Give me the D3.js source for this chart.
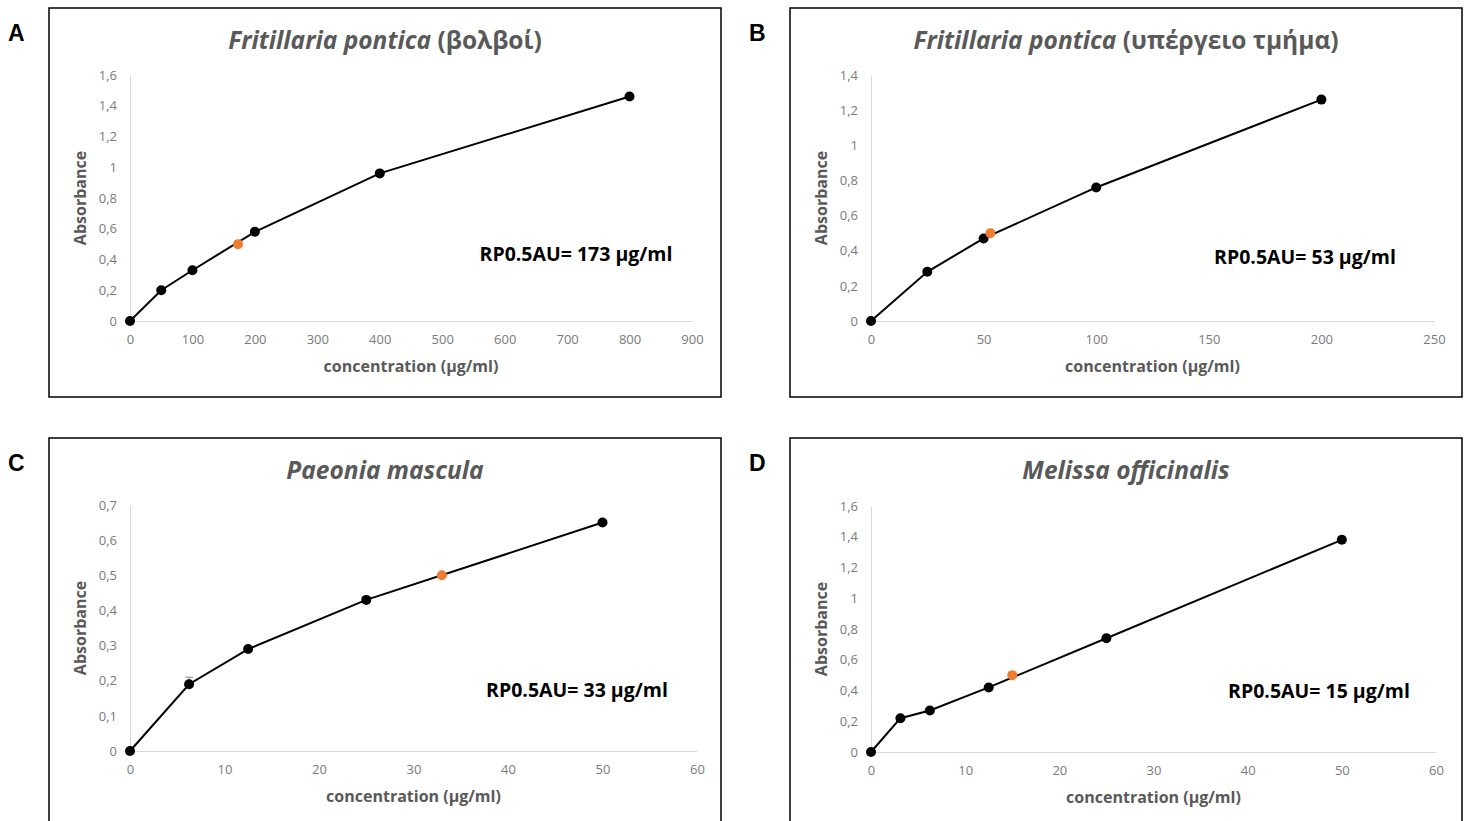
<!DOCTYPE html>
<html lang="en">
  <head>
    <meta charset="UTF-8" />
    <title>RP0.5AU curves</title>
    <script src="https://d3js.org/d3.v7.min.js"></script>
    <style>
      * {
        margin: 0;
        padding: 0;
      }
      body {
        background: #fff;
        overflow: hidden;
      }
      text {
        font-family: "Open Sans", "Noto Sans", sans-serif;
      }
      .axis-title {
        font-size: 16px;
        font-weight: bold;
        fill: #595959;
      }
      .chart-title {
        font-size: 24.5px;
        font-weight: bold;
        fill: #595959;
      }
      .rp {
        font-size: 19.5px;
        font-weight: bold;
        fill: #000;
      }
      .letter {
        font-family: "Liberation Sans", Arial, sans-serif;
        font-size: 23px;
        font-weight: bold;
      }
    </style>
  </head>

  <body></body>

  <script>
    let w = 1467;
    let h = 821;

    // A: Fritillaria pontica (bulbs)
    const concA = [0, 50, 100, 200, 400, 800];
    const absA = [0, 0.2, 0.33, 0.58, 0.96, 1.46];
    const rpA = [173, 0.5];
    const xTicksA = [0, 100, 200, 300, 400, 500, 600, 700, 800, 900];
    const yTicksA = [0, 0.2, 0.4, 0.6, 0.8, 1, 1.2, 1.4, 1.6];

    // B: Fritillaria pontica (aerial part)
    const concB = [0, 25, 50, 100, 200];
    const absB = [0, 0.28, 0.47, 0.76, 1.26];
    const rpB = [53, 0.5];
    const xTicksB = [0, 50, 100, 150, 200, 250];
    const yTicksB = [0, 0.2, 0.4, 0.6, 0.8, 1, 1.2, 1.4];

    // C: Paeonia mascula
    const concC = [0, 6.25, 12.5, 25, 50];
    const absC = [0, 0.19, 0.29, 0.43, 0.65];
    const errC = [0, 0.02, 0, 0, 0];
    const rpC = [33, 0.5];
    const xTicksC = [0, 10, 20, 30, 40, 50, 60];
    const yTicksC = [0, 0.1, 0.2, 0.3, 0.4, 0.5, 0.6, 0.7];

    // D: Melissa officinalis
    const concD = [0, 3.125, 6.25, 12.5, 25, 50];
    const absD = [0, 0.22, 0.27, 0.42, 0.74, 1.38];
    const errD = [0, 0, 0, 0, 0.02, 0];
    const rpD = [15, 0.5];
    const xTicksD = [0, 10, 20, 30, 40, 50, 60];
    const yTicksD = [0, 0.2, 0.4, 0.6, 0.8, 1, 1.2, 1.4, 1.6];

    const panels = [
      {
        letter: "A", species: "Fritillaria pontica", extra: " (βολβοί)",
        x: concA, y: absA, err: null, rp: rpA, xt: xTicksA, yt: yTicksA,
        rpText: "RP0.5AU= 173 µg/ml",
        box: [49, 8, 672, 389], plot: [130, 692, 321, 75], rpPos: [576, 261],
      },
      {
        letter: "B", species: "Fritillaria pontica", extra: " (υπέργειο τμήμα)",
        x: concB, y: absB, err: null, rp: rpB, xt: xTicksB, yt: yTicksB,
        rpText: "RP0.5AU= 53 µg/ml",
        box: [790, 8, 672, 389], plot: [871, 1434, 321, 75], rpPos: [1305, 264],
      },
      {
        letter: "C", species: "Paeonia mascula", extra: "",
        x: concC, y: absC, err: errC, rp: rpC, xt: xTicksC, yt: yTicksC,
        rpText: "RP0.5AU= 33 µg/ml",
        box: [49, 438, 672, 400], plot: [130, 697, 751, 505], rpPos: [577, 697],
      },
      {
        letter: "D", species: "Melissa officinalis", extra: "",
        x: concD, y: absD, err: errD, rp: rpD, xt: xTicksD, yt: yTicksD,
        rpText: "RP0.5AU= 15 µg/ml",
        box: [790, 438, 672, 400], plot: [871, 1436, 752, 506], rpPos: [1319, 698],
      },
    ];

    let svg = d3
      .select("body")
      .append("svg")
      .attr("width", w)
      .attr("height", h);

    const fmt = (d) => String(d).replace(".", ",");

    panels.forEach((p) => {
      let g = svg.append("g");

      // frame
      g.append("rect")
        .attr("x", p.box[0])
        .attr("y", p.box[1])
        .attr("width", p.box[2])
        .attr("height", p.box[3])
        .attr("fill", "none")
        .attr("stroke", "#000")
        .attr("stroke-width", 1.5);

      g.append("text")
        .attr("class", "letter")
        .attr("x", p.box[0] - 41)
        .attr("y", p.box[1] + 33)
        .text(p.letter);

      let xScale = d3
        .scaleLinear()
        .domain([0, d3.max(p.xt)])
        .range([p.plot[0], p.plot[1]]);
      let yScale = d3
        .scaleLinear()
        .domain([0, d3.max(p.yt)])
        .range([p.plot[2], p.plot[3]]);

      // axes
      let xAxis = g
        .append("g")
        .attr("transform", "translate(0," + p.plot[2] + ")")
        .call(d3.axisBottom(xScale).tickValues(p.xt).tickSize(0).tickPadding(14).tickFormat(fmt));
      let yAxis = g
        .append("g")
        .attr("transform", "translate(" + p.plot[0] + ",0)")
        .call(d3.axisLeft(yScale).tickValues(p.yt).tickSize(0).tickPadding(13).tickFormat(fmt));
      [xAxis, yAxis].forEach((a) => {
        a.select(".domain").attr("stroke", "#d9d9d9").attr("stroke-width", 1);
        a.selectAll(".tick text")
          .attr("font-size", 13)
          .attr("font-family", "'Open Sans', sans-serif")
          .attr("fill", "#7a7a7a");
      });

      // titles
      let t = g
        .append("text")
        .attr("class", "chart-title")
        .attr("x", p.box[0] + p.box[2] / 2)
        .attr("y", p.box[1] + 41)
        .attr("text-anchor", "middle");
      t.append("tspan").attr("font-style", "italic").text(p.species);
      if (p.extra) t.append("tspan").text(p.extra);

      g.append("text")
        .attr("class", "axis-title")
        .attr("x", (p.plot[0] + p.plot[1]) / 2)
        .attr("y", p.plot[2] + 51)
        .attr("text-anchor", "middle")
        .text("concentration (µg/ml)");

      g.append("text")
        .attr("class", "axis-title")
        .attr("transform", "translate(" + (p.plot[0] - 44) + "," + (p.plot[2] + p.plot[3]) / 2 + ") rotate(-90)")
        .attr("text-anchor", "middle")
        .text("Absorbance");

      // data
      let pts = p.x.map((c, i) => ({ c: c, a: p.y[i], e: p.err ? p.err[i] : 0 }));

      g.selectAll(".err")
        .data(pts.filter((d) => d.e > 0))
        .enter()
        .append("path")
        .attr("fill", "none")
        .attr("stroke", "#888")
        .attr("stroke-width", 1)
        .attr("d", (d) => {
          let x = xScale(d.c);
          let y0 = yScale(d.a);
          let y1 = yScale(d.a + d.e);
          return "M" + x + "," + y0 + "V" + y1 + "M" + (x - 4) + "," + y1 + "H" + (x + 4);
        });

      let line = d3
        .line()
        .x((d) => xScale(d.c))
        .y((d) => yScale(d.a));
      g.append("path")
        .datum(pts)
        .attr("d", line)
        .attr("fill", "none")
        .attr("stroke", "#000")
        .attr("stroke-width", 2);

      g.selectAll(".pt")
        .data(pts)
        .enter()
        .append("circle")
        .attr("cx", (d) => xScale(d.c))
        .attr("cy", (d) => yScale(d.a))
        .attr("r", 5)
        .attr("fill", "#000");

      g.append("circle")
        .attr("cx", xScale(p.rp[0]))
        .attr("cy", yScale(p.rp[1]))
        .attr("r", 5)
        .attr("fill", "#ed7d31");

      g.append("text")
        .attr("class", "rp")
        .attr("x", p.rpPos[0])
        .attr("y", p.rpPos[1])
        .attr("text-anchor", "middle")
        .text(p.rpText);
    });
  </script>
</html>
